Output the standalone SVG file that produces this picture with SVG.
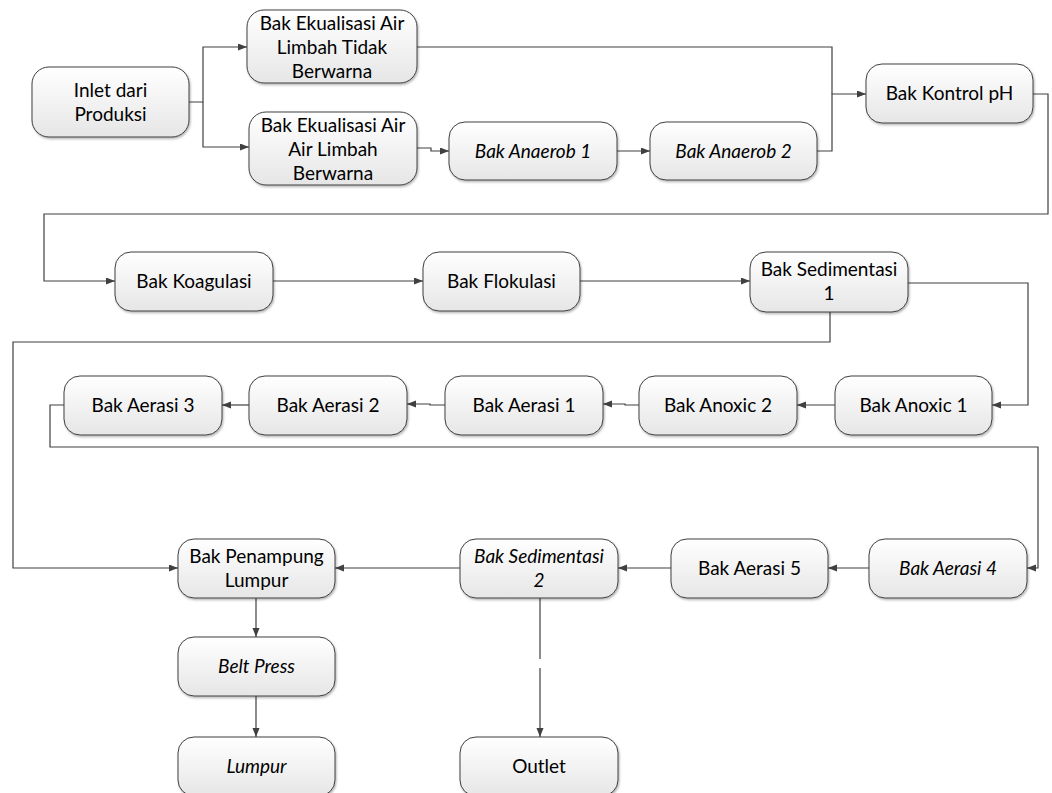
<svg xmlns="http://www.w3.org/2000/svg" width="1052" height="793" viewBox="0 0 1052 793">
<defs>
<linearGradient id="g" x1="0" y1="0" x2="0" y2="1">
<stop offset="0" stop-color="#ffffff"/>
<stop offset="1" stop-color="#e6e6e6"/>
</linearGradient>
<filter id="sh" x="-10%" y="-10%" width="125%" height="135%">
<feDropShadow dx="1" dy="1.5" stdDeviation="1" flood-color="#000" flood-opacity="0.3"/>
</filter>
<marker id="ar" markerUnits="userSpaceOnUse" markerWidth="10" markerHeight="8" refX="9" refY="3.5" orient="auto">
<path d="M0,0 L9,3.5 L0,7 z" fill="#404040"/>
</marker>
</defs>
<style>
rect.n{fill:url(#g);stroke:#404040;stroke-width:1;filter:url(#sh)}
text{font-family:Lato,"Liberation Sans",sans-serif;font-size:19px;fill:#000;text-anchor:middle}
text.i{font-style:italic}
.c path{fill:none;stroke:#404040;stroke-width:1.2}
.c path.a{marker-end:url(#ar)}
</style>
<g class="c" id="connectors">
<path class="a" d="M189,102 H203 V47 H247"/>
<path class="a" d="M203,102 V147 H249"/>
<path d="M417,47 H832 V94"/>
<path class="a" d="M817,151 H832 V94 H866"/>
<path class="a" d="M417,148 H431 V151 H449"/>
<path class="a" d="M617,151 H650"/>
<path class="a" d="M1033,94 H1048 V214 H44 V281 H115"/>
<path class="a" d="M273,281 H423"/>
<path class="a" d="M580,281 H750"/>
<path class="a" d="M908,283 H1028 V405 H992"/>
<path class="a" d="M835,405 H797"/>
<path class="a" d="M639,405 H625 V404 H603"/>
<path class="a" d="M445,405 H430 V404 H407"/>
<path class="a" d="M249,405 H222"/>
<path class="a" d="M64,405 H50 V447 H1038 V568 H1027"/>
<path class="a" d="M869,568 H828"/>
<path class="a" d="M671,568 H618"/>
<path class="a" d="M460,568 H335"/>
<path class="a" d="M830,312 V342 H13 V568 H178"/>
<path class="a" d="M256,598 V637"/>
<path class="a" d="M256,696 V737"/>
<path d="M540,598 V659"/>
<path class="a" d="M540,668 V737"/>
</g>
<g id="n-inlet"><rect class="n" x="32" y="67" width="157" height="70" rx="17"/><text x="110.5" y="96.5">Inlet dari</text><text x="110.5" y="120.5">Produksi</text></g>
<g id="n-ek1"><rect class="n" x="247" y="10" width="170" height="73" rx="17"/><text x="332" y="30">Bak Ekualisasi Air</text><text x="332" y="54">Limbah Tidak</text><text x="332" y="78">Berwarna</text></g>
<g id="n-ek2"><rect class="n" x="249" y="112" width="168" height="73" rx="17"/><text x="333" y="132">Bak Ekualisasi Air</text><text x="333" y="156">Air Limbah</text><text x="333" y="180">Berwarna</text></g>
<g id="n-an1"><rect class="n" x="449" y="122" width="168" height="58" rx="16"/><text class="i" x="533" y="157.5">Bak Anaerob 1</text></g>
<g id="n-an2"><rect class="n" x="650" y="122" width="167" height="58" rx="16"/><text class="i" x="733.5" y="157.5">Bak Anaerob 2</text></g>
<g id="n-ph"><rect class="n" x="866" y="64" width="167" height="59" rx="16"/><text x="949.5" y="100">Bak Kontrol pH</text></g>
<g id="n-koag"><rect class="n" x="115" y="252" width="158" height="59" rx="16"/><text x="194" y="288">Bak Koagulasi</text></g>
<g id="n-flok"><rect class="n" x="423" y="252" width="157" height="59" rx="16"/><text x="501.5" y="288">Bak Flokulasi</text></g>
<g id="n-sed1"><rect class="n" x="750" y="252" width="158" height="60" rx="16"/><text x="829" y="276">Bak Sedimentasi</text><text x="829" y="300">1</text></g>
<g id="n-anox1"><rect class="n" x="835" y="376" width="157" height="59" rx="16"/><text x="913.5" y="412">Bak Anoxic 1</text></g>
<g id="n-anox2"><rect class="n" x="639" y="376" width="158" height="59" rx="16"/><text x="718" y="412">Bak Anoxic 2</text></g>
<g id="n-aer1"><rect class="n" x="445" y="376" width="158" height="59" rx="16"/><text x="524" y="412">Bak Aerasi 1</text></g>
<g id="n-aer2"><rect class="n" x="249" y="376" width="158" height="59" rx="16"/><text x="328" y="412">Bak Aerasi 2</text></g>
<g id="n-aer3"><rect class="n" x="64" y="376" width="158" height="59" rx="16"/><text x="143" y="412">Bak Aerasi 3</text></g>
<g id="n-aer4"><rect class="n" x="869" y="539" width="158" height="59" rx="16"/><text class="i" x="948" y="575">Bak Aerasi 4</text></g>
<g id="n-aer5"><rect class="n" x="671" y="539" width="157" height="59" rx="16"/><text x="749.5" y="575">Bak Aerasi 5</text></g>
<g id="n-sed2"><rect class="n" x="460" y="539" width="158" height="59" rx="16"/><text class="i" x="539" y="563">Bak Sedimentasi</text><text class="i" x="539" y="587">2</text></g>
<g id="n-pen"><rect class="n" x="178" y="539" width="157" height="59" rx="16"/><text x="256.5" y="563">Bak Penampung</text><text x="256.5" y="587">Lumpur</text></g>
<g id="n-belt"><rect class="n" x="178" y="637" width="157" height="59" rx="16"/><text class="i" x="256.5" y="673">Belt Press</text></g>
<g id="n-lumpur"><rect class="n" x="178" y="737" width="157" height="59" rx="16"/><text class="i" x="256.5" y="773">Lumpur</text></g>
<g id="n-outlet"><rect class="n" x="460" y="737" width="158" height="59" rx="16"/><text x="539" y="773">Outlet</text></g>
</svg>
